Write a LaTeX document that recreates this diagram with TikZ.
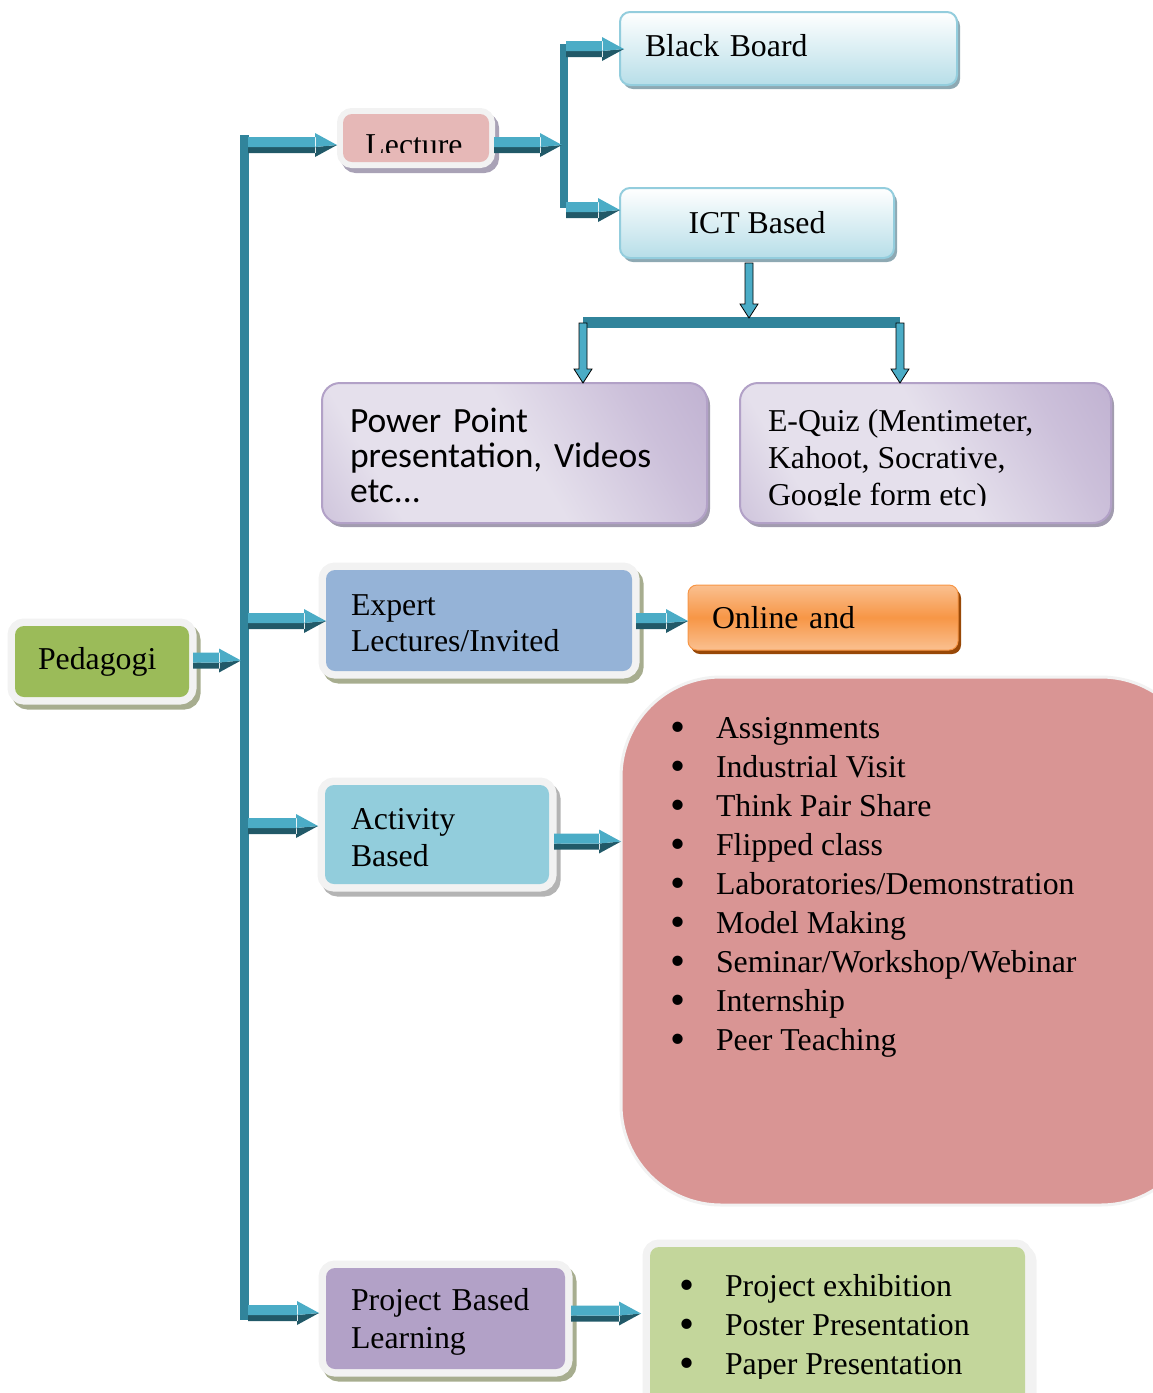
\documentclass[tikz,border=0pt]{standalone}
\usepackage{fontspec}
\setmainfont{Liberation Serif}
\newfontfamily\carl{Carlito}
\usetikzlibrary{calc}
\definecolor{trunkC}{HTML}{31849B}
\definecolor{arrL}{HTML}{4BACC6}
\definecolor{arrD}{HTML}{215968}
\definecolor{frameC}{HTML}{F2F2F2}
\definecolor{pedC}{HTML}{9BBB59}
\definecolor{lecC}{HTML}{E6B8B7}
\definecolor{expC}{HTML}{95B3D7}
\definecolor{actC}{HTML}{92CDDC}
\definecolor{pblC}{HTML}{B2A1C7}
\definecolor{grnC}{HTML}{C3D69B}
\definecolor{lstC}{HTML}{D99594}
\definecolor{bbBot}{HTML}{B7DEE8}
\definecolor{bbLine}{HTML}{93CDDD}
\definecolor{bbSh}{HTML}{8EA9B3}
\definecolor{orgM}{HTML}{F79646}
\definecolor{orgL}{HTML}{FAC090}
\definecolor{orgSh}{HTML}{984807}
\definecolor{pDk}{HTML}{B2A1C7}
\definecolor{pMd}{HTML}{CCC0DA}
\definecolor{pLt}{HTML}{E5E0EC}
\definecolor{pSh}{HTML}{A29CAF}
\definecolor{shOl}{HTML}{A7AD8F}
\definecolor{shGy}{HTML}{B4B4B4}
\definecolor{shLec}{HTML}{A9A2B6}
\pgfdeclarehorizontalshading{purpsh}{100bp}{color(0bp)=(pDk); color(28bp)=(pLt); color(52bp)=(pLt); color(72bp)=(pMd); color(100bp)=(pDk)}
\newcommand\fs[2]{\fontsize{#1}{#2}\selectfont}
\newcommand\bul{\makebox[46pt][l]{\smash{\raisebox{-3.6pt}{\scalebox{1.35}{•}}}}}
\newcommand\blockarr[2]{%
  \fill[arrD] let \p1=(#1), \p2=(#2) in
    (\x1,\y1-2pt) rectangle (\x2-21pt,\y1-8pt)
    (\x2-22pt,\y1-2pt) -- (\x2,\y1) -- (\x2-22pt,\y1-12pt) -- cycle;
  \fill[arrL] let \p1=(#1), \p2=(#2) in
    (\x1,\y1+8pt) rectangle (\x2-21pt,\y1-2pt)
    (\x2-22pt,\y1+12pt) -- (\x2,\y1) -- (\x2-22pt,\y1-2pt) -- cycle;
}
\newcommand\downarr[2]{%
  \filldraw[fill=arrL, draw=black, line width=0.8pt] let \p1=(#1), \p2=(#2) in
    (\x1-4pt,\y1) -- (\x1+4pt,\y1) -- (\x1+4pt,\y2+14pt) -- (\x1+9pt,\y2+14pt)
    -- (\x1,\y2) -- (\x1-9pt,\y2+14pt) -- (\x1-4pt,\y2+14pt) -- cycle;
}
\tikzset{
  framedbox/.style n args={3}{fill=#1, rounded corners=9pt,
    preaction={draw=#2, fill=#2, line width=#3, transform canvas={shift={(4pt,-5pt)}}},
    preaction={draw=frameC, line width=#3}},
  bluebox/.style={top color=white, bottom color=bbBot, draw=bbLine, line width=2pt,
    rounded corners=10pt, preaction={fill=bbSh, transform canvas={shift={(3pt,-4pt)}}}},
  purpbox/.style={shading=purpsh, shading angle=30, draw=pDk, line width=2pt,
    rounded corners=18pt, preaction={fill=pSh, transform canvas={shift={(3pt,-4pt)}}}},
  orgbox/.style={top color=orgL, bottom color=orgL, middle color=orgM, draw=orgM, line width=1pt,
    rounded corners=9pt, preaction={fill=orgSh, transform canvas={shift={(3pt,-4pt)}}}},
  ser/.style={font=\fs{31.8}{#1}},
}
\begin{document}
\begin{tikzpicture}[x=1pt, y=-1pt, every node/.style={inner sep=0pt, outer sep=0pt}]
\useasboundingbox (0,0) rectangle (1153,1393);
\clip (0,0) rectangle (1153,1393);

% trunks and bars
\fill[trunkC] (240,135) rectangle (249,1320);
\fill[trunkC] (560,44) rectangle (568,208);
\fill[trunkC] (583,317) rectangle (900,328);

% boxes
\node[framedbox={pedC}{shOl}{15pt}, anchor=north west, minimum width=174pt, minimum height=71pt,
  text width=128pt, inner xsep=23pt, align=left, ser=37] (ped) at (15,626) {Pedagogi};

\node[framedbox={lecC}{shLec}{12pt}, anchor=north west, minimum width=146pt, minimum height=48pt] (lec) at (343,114) {};
\begin{scope}
\clip (300,100) rectangle (520,152);
\node[anchor=base, ser=37] (lect) at (414,155) {Lecture};
\end{scope}

\node[bluebox, anchor=north west, minimum width=337pt, minimum height=73pt,
  text width=287pt, inner xsep=25pt, align=left, ser=37] (bb) at (620,12) {Black Board\rule[-6pt]{0pt}{6pt}};
\node[bluebox, anchor=north west, minimum width=274pt, minimum height=70pt,
  align=center, ser=37] (ict) at (620,188) {ICT Based\rule[-2pt]{0pt}{2pt}};

\node[purpbox, anchor=north west, minimum width=385pt, minimum height=140pt,
  text width=329pt, inner xsep=28pt, align=left, font=\carl\fs{35.5}{35}] (pp) at (322,383)
  {\rule{0pt}{30pt}Power Point\\presentation, Videos\\etc...};
\node[purpbox, anchor=north west, minimum width=371pt, minimum height=140pt] (eq) at (740,383) {};
\begin{scope}
\clip (740,383) rectangle (1111,505);
\node[anchor=north west, align=left, ser=37] (eqt) at (768,405.1)
  {\strut E-Quiz (Mentimeter,\\Kahoot, Socrative,\\Google form etc)};
\end{scope}

\node[framedbox={expC}{shOl}{15pt}, anchor=north west, minimum width=306pt, minimum height=101pt,
  text width=256pt, inner xsep=25pt, align=left, ser=36] (exp) at (326,570) {\rule{0pt}{27pt}Expert\\Lectures/Invited};

\node[orgbox, anchor=north west, minimum width=270pt, minimum height=65pt,
  text width=222pt, inner xsep=24pt, align=left, ser=37] (onl) at (688,585) {Online and};

\node[framedbox={actC}{shGy}{15pt}, anchor=north west, minimum width=224pt, minimum height=99pt,
  text width=172pt, inner xsep=26pt, align=left, ser=37] (act) at (325,785) {\rule{0pt}{27.7pt}Activity\\Based};

\node[fill=lstC, draw=frameC, line width=3pt, rounded corners=100pt, anchor=north west,
  minimum width=580pt, minimum height=528pt] (lst) at (621,677) {};
\node[anchor=north west, align=left, ser=39] (lstt) at (670,710.7)
  {\strut\bul Assignments\\
   \bul Industrial Visit\\
   \bul Think Pair Share\\
   \bul Flipped class\\
   \bul Laboratories/Demonstration\\
   \bul Model Making\\
   \bul Seminar/Workshop/Webinar\\
   \bul Internship\\
   \bul Peer Teaching};

\node[framedbox={pblC}{shOl}{15pt}, anchor=north west, minimum width=239pt, minimum height=101pt,
  text width=189pt, inner xsep=25pt, align=left, ser=38] (pbl) at (326,1268) {\rule{0pt}{29.7pt}Project Based\\Learning};

\node[framedbox={grnC}{frameC}{15pt}, anchor=north west, minimum width=375pt, minimum height=180pt] (grn) at (650,1247) {};
\begin{scope}
\clip (643,1240) rectangle (1040,1378);
\node[anchor=north west, align=left, ser=39] (grnt) at (679,1268.7)
  {\strut\bul Project exhibition\\
   \bul Poster Presentation\\
   \bul Paper Presentation};
\end{scope}

% connector coordinates
\coordinate (tPed) at (241,660);
\coordinate (tLec) at (248,145);
\coordinate (tExp) at (248,621);
\coordinate (tAct) at (248,826);
\coordinate (tPbl) at (248,1313);
\coordinate (b2in) at (562,145);
\coordinate (b2bb) at (566,49);
\coordinate (b2ict) at (566,210);
\coordinate (icB) at (749,318);
\coordinate (bL) at (583,323);
\coordinate (bR) at (900,323);

% block arrows
\blockarr{$(ped.east)+(4,-1)$}{tPed}
\blockarr{tLec}{$(lec.west)+(-6,0)$}
\blockarr{$(lec.east |- tLec)+(5,0)$}{b2in}
\blockarr{b2bb}{$(bb.west)+(4,0)$}
\blockarr{b2ict}{ict.west}
\blockarr{tExp}{exp.west}
\blockarr{$(exp.east |- tExp)+(4,0)$}{onl.west}
\blockarr{tAct}{$(act.west)+(-7,0)$}
\blockarr{$(act.east)+(5,7)$}{lst.west}
\blockarr{tPbl}{$(pbl.west)+(-7,0)$}
\blockarr{$(pbl.east)+(6,-5)$}{$(grn.west)+(-9,0)$}

% down arrows
\downarr{$(ict.south)+(-8,5)$}{icB}
\downarr{bL}{bL |- pp.north}
\downarr{bR}{bR |- eq.north}
\end{tikzpicture}
\end{document}
